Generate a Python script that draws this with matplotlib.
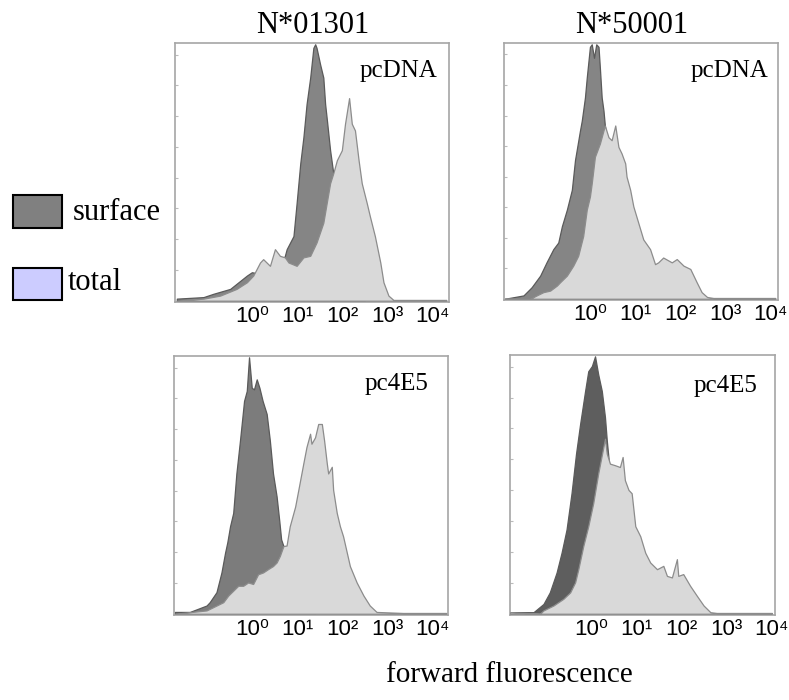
import matplotlib.pyplot as plt
from matplotlib.patches import Rectangle

# log10 fluorescence (x) and relative counts in % of panel max (y)
tl_surf_x = [-1.66, -1.07, -0.85, -0.48, -0.11, 0.00, 0.33, 0.62, 0.73, 0.77, 0.92, 0.99, 1.07, 1.14,
             1.21, 1.29, 1.36, 1.40, 1.43, 1.51, 1.58, 1.62, 1.66, 1.73, 1.80, 1.95, 2.10, 2.30, 2.50]
tl_surf_y = [0.8, 1.4, 2.7, 4.6, 9.8, 11.1, 10, 13, 17.5, 20.1, 25.2, 38.1, 53.5, 63.8,
             76.7, 87.0, 98.6, 100, 98.6, 92.1, 87.0, 76.7, 70.3, 58.7, 49.7, 30, 15, 5, 0]
tl_total_x = [-1.66, -1.07, -0.70, -0.34, -0.11, 0.03, 0.18, 0.25, 0.40, 0.51, 0.62, 0.73, 0.81, 0.99,
              1.14, 1.29, 1.43, 1.58, 1.73, 1.80, 1.88, 1.99, 2.06, 2.15, 2.21, 2.28, 2.36, 2.43,
              2.54, 2.61, 2.72, 2.84, 2.91, 3.02, 3.13, 3.60, 4.30]
tl_total_y = [0, 0.8, 2.0, 4.6, 7.2, 9.8, 14.9, 16.2, 13.6, 20.1, 17.5, 16.9, 14.9, 13.6,
              16.9, 17.5, 22.7, 30.4, 45.8, 49.7, 54.8, 58.7, 69.0, 79.0, 69.0, 66.4, 54.8, 45.8,
              38.1, 32.9, 25.2, 14.9, 7.2, 2.0, 0.3, 0.3, 0.3]

tr_surf_x = [-1.88, -1.47, -1.29, -1.10, -0.96, -0.81, -0.70, -0.62, -0.51, -0.40, -0.33, -0.22, -0.18,
             -0.11, -0.07, 0.00, 0.04, 0.09, 0.14, 0.19, 0.22, 0.26, 0.30, 0.33, 0.50, 0.70, 0.90, 1.10, 1.30]
tr_surf_y = [0, 1.3, 4.5, 9.1, 14.3, 19.5, 22.1, 28.5, 35.0, 42.8, 54.5, 66.1, 70.0,
             79.1, 86.9, 99.0, 100, 94.7, 100, 99.0, 90.8, 79.1, 73.9, 68.1, 45, 25, 10, 3, 0]
tr_total_x = [-1.88, -1.32, -1.18, -1.03, -0.88, -0.73, -0.66, -0.51, -0.37, -0.26, -0.15, -0.07, 0.00,
              0.04, 0.11, 0.22, 0.33, 0.41, 0.48, 0.56, 0.63, 0.70, 0.78, 0.81, 0.89, 0.96, 1.07,
              1.18, 1.33, 1.44, 1.51, 1.62, 1.81, 1.92, 2.07, 2.22, 2.36, 2.47, 2.59, 2.73, 3.20, 4.10]
tr_total_y = [0, 0, 1.3, 2.6, 3.2, 5.2, 6.5, 9.1, 13.0, 16.9, 24.6, 35.0, 40.2,
              45.4, 55.8, 61.0, 68.1, 63.5, 62.3, 68.1, 59.7, 57.1, 53.2, 48.0, 42.8, 36.3, 29.8,
              23.3, 19.5, 13.6, 14.3, 16.2, 14.3, 15.6, 13.0, 11.7, 6.5, 2.6, 0.7, 0.3, 0.3, 0.3]

bl_surf_x = [-1.70, -1.37, -1.00, -0.93, -0.78, -0.67, -0.59, -0.54, -0.48, -0.41, -0.34, -0.26, -0.17,
             -0.11, -0.06, 0.00, 0.05, 0.11, 0.17, 0.24, 0.33, 0.40, 0.47, 0.55, 0.61, 0.65, 0.70,
             0.85, 1.00, 1.20, 1.40]
bl_surf_y = [0.7, 0.7, 3.2, 4.5, 8.4, 16.1, 23.8, 27.9, 34.1, 39.3, 54.7, 67.6, 83.0,
             86.9, 100, 88.1, 87.5, 91.4, 88.1, 83.0, 77.9, 67.6, 54.7, 45.7, 36.0, 29.0, 26.4,
             15, 6, 1, 0]
bl_total_x = [-1.70, -1.00, -0.78, -0.63, -0.52, -0.41, -0.30, -0.19, -0.08, 0.03, 0.14, 0.25, 0.36,
              0.47, 0.55, 0.62, 0.70, 0.77, 0.84, 0.96, 1.03, 1.14, 1.21, 1.29, 1.32, 1.40, 1.47,
              1.55, 1.60, 1.66, 1.69, 1.77, 1.80, 1.88, 1.95, 2.02, 2.17, 2.32, 2.47, 2.61, 2.76,
              3.35, 4.30]
bl_total_y = [0, 1.3, 3.2, 4.5, 7.1, 9.0, 10.9, 10.9, 12.2, 11.6, 15.4, 16.1, 17.4,
              18.6, 20.0, 22.5, 26.4, 26.6, 34.1, 41.8, 48.3, 58.6, 65.0, 70.2, 66.3, 68.8, 74.0,
              74.0, 67.6, 58.6, 54.7, 57.3, 48.3, 39.3, 34.1, 30.2, 18.6, 12.2, 7.1, 3.2, 0.7,
              0.3, 0.3]

br_surf_x = [-1.79, -1.27, -1.05, -0.91, -0.76, -0.65, -0.54, -0.43, -0.33, -0.24, -0.13, -0.06,
             0.02, 0.09, 0.16, 0.24, 0.31, 0.35, 0.50, 0.65, 0.80, 1.00, 1.20]
br_surf_y = [0.6, 0.6, 3.8, 8.3, 16.0, 23.7, 32.7, 46.8, 62.2, 73.7, 86.5, 94.2,
             96.2, 100, 93.0, 86.5, 76.3, 67.3, 40, 20, 8, 2, 0]
br_total_x = [-1.79, -1.13, -1.05, -0.83, -0.61, -0.46, -0.35, -0.28, -0.17, -0.06, 0.05, 0.16, 0.26,
              0.31, 0.35, 0.42, 0.53, 0.64, 0.70, 0.75, 0.83, 0.90, 0.98, 1.09, 1.20, 1.31, 1.46,
              1.60, 1.68, 1.79, 1.90, 1.93, 2.04, 2.19, 2.34, 2.49, 2.64, 2.78, 3.30, 4.00]
br_total_y = [0.6, 0, 1.3, 3.2, 5.8, 8.3, 12.2, 17.3, 26.3, 34.0, 43.0, 54.5, 63.5,
              68.0, 62.2, 58.3, 57.7, 57.0, 60.9, 51.9, 48.1, 46.8, 34.0, 30.1, 23.7, 19.9, 17.3,
              18.6, 14.7, 14.1, 21.2, 14.7, 15.4, 10.9, 7.0, 3.2, 0.6, 0.3, 0.3, 0.3]

column_titles = ["N*01301", "N*50001"]
row_labels = ["pcDNA", "pc4E5"]
decades = [0, 1, 2, 3, 4]
decade_labels = ["10⁰", "10¹", "10²", "10³", "10⁴"]

SERIF = "Liberation Serif"
SANS = ["Liberation Sans", "DejaVu Sans"]

fig = plt.figure(figsize=(7.89, 7.0), dpi=100)

# (axes rect, xlim, data, surface colour, label, label pos)
panels = [
    ([0.2218, 0.5686, 0.3473, 0.3700], (-1.70, 4.36), tl_surf_x, tl_surf_y, tl_total_x, tl_total_y,
     "#858585", row_labels[0], (0.956, 0.869)),
    ([0.6388, 0.5714, 0.3473, 0.3671], (-1.90, 4.16), tr_surf_x, tr_surf_y, tr_total_x, tr_total_y,
     "#858585", row_labels[0], (0.964, 0.868)),
    ([0.2205, 0.1214, 0.3473, 0.3700], (-1.72, 4.34), bl_surf_x, bl_surf_y, bl_total_x, bl_total_y,
     "#7c7c7c", row_labels[1], (0.927, 0.869)),
    ([0.6464, 0.1214, 0.3359, 0.3714], (-1.79, 4.07), br_surf_x, br_surf_y, br_total_x, br_total_y,
     "#5e5e5e", row_labels[1], (0.932, 0.858)),
]

for rect, xlim, sx, sy, tx, ty, scol, lab, lpos in panels:
    ax = fig.add_axes(rect)
    ax.fill_between(sx, sy, 0, facecolor=scol, edgecolor="#5a5a5a", linewidth=0.9, zorder=2)
    ax.fill_between(tx, ty, 0, facecolor="#d9d9d9", edgecolor="#8c8c8c", linewidth=0.9, zorder=3)
    ax.set_xlim(*xlim)
    ax.set_ylim(-0.5, 100.5)
    for sp in ax.spines.values():
        sp.set_color("#a6a6a6")
        sp.set_linewidth(1.2)
    ax.set_xticks(decades)
    ax.set_xticklabels(decade_labels, family=SANS, fontsize=16)
    ax.tick_params(axis="x", length=0, pad=3)
    ax.set_yticks(range(0, 101, 12))
    ax.set_yticklabels([])
    ax.tick_params(axis="y", direction="in", length=2, color="#bbbbbb")
    ax.text(lpos[0], lpos[1], lab, transform=ax.transAxes, ha="right", va="baseline",
            family=SERIF, fontsize=18)

fig.text(0.397, 0.953, column_titles[0], ha="center", va="baseline", family=SERIF, fontsize=22)
fig.text(0.800, 0.953, column_titles[1], ha="center", va="baseline", family=SERIF, fontsize=22)
fig.text(0.645, 0.026, "forward fluorescence", ha="center", va="baseline", family=SERIF, fontsize=21)

# legend boxes
fig.add_artist(Rectangle((0.0165, 0.674), 0.0621, 0.0471, transform=fig.transFigure,
                         facecolor="#808080", edgecolor="black", linewidth=1.5))
fig.add_artist(Rectangle((0.0165, 0.5714), 0.0621, 0.0457, transform=fig.transFigure,
                         facecolor="#ccccff", edgecolor="black", linewidth=1.5))
fig.text(0.0925, 0.697, "surface", ha="left", va="center", family=SERIF, fontsize=22)
fig.text(0.0862, 0.597, "total", ha="left", va="center", family=SERIF, fontsize=22)

fig.savefig("out.png", dpi=100)
